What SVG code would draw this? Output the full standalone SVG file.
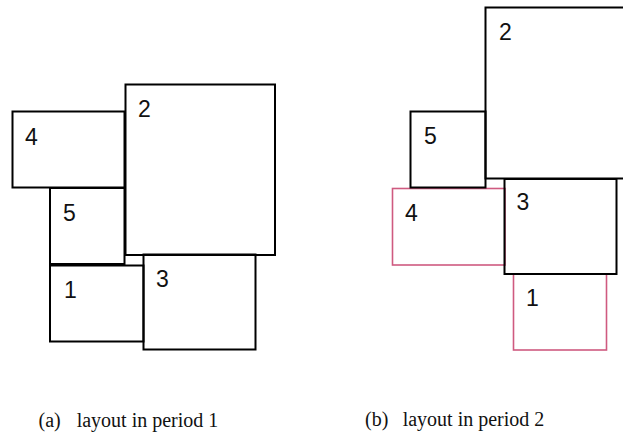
<svg xmlns="http://www.w3.org/2000/svg" width="623" height="434" viewBox="0 0 623 434">
<style>
.b{fill:none;stroke:#000;stroke-width:2}
.p{fill:none;stroke:#cf5a80;stroke-width:1.6}
.n{font-family:"Liberation Sans",Arial,sans-serif;font-size:23px;fill:#111}
.c{font-family:"Liberation Serif","Times New Roman",serif;font-size:20px;fill:#111}
</style>
<rect width="623" height="434" fill="#fff"/>
<g id="period1">
<g id="a4"><rect class="b" x="12.5" y="111.5" width="112" height="76"/><text class="n" x="25" y="145">4</text></g>
<g id="a2"><rect class="b" x="125.5" y="84.5" width="149.5" height="170.5"/><text class="n" x="138" y="116.5">2</text></g>
<g id="a5"><rect class="b" x="50" y="188" width="74.5" height="76"/><text class="n" x="63" y="220.5">5</text></g>
<g id="a1"><rect class="b" x="50" y="265.5" width="93.5" height="76"/><text class="n" x="64" y="297.5">1</text></g>
<g id="a3"><rect class="b" x="143.5" y="254.5" width="112" height="95"/><text class="n" x="156" y="286.5">3</text></g>
</g>
<g id="period2">
<g id="b4"><rect class="p" x="392.5" y="188.5" width="112.5" height="76.5"/><text class="n" x="405" y="220.5">4</text></g>
<g id="b1"><rect class="p" x="513.5" y="274" width="93" height="76"/><text class="n" x="526" y="306">1</text></g>
<g id="b2"><rect class="b" x="485.5" y="7.5" width="150" height="171"/><text class="n" x="499" y="40">2</text></g>
<g id="b5"><rect class="b" x="410.5" y="111.5" width="75" height="76"/><text class="n" x="424" y="144">5</text></g>
<g id="b3"><rect class="b" x="504.5" y="179" width="112" height="95"/><text class="n" x="516.5" y="210">3</text></g>
</g>
<g id="connectors"></g>
<g id="captions">
<text class="c" x="38.5" y="426.5">(a)</text>
<text class="c" x="76.7" y="426.5">layout in period 1</text>
<text class="c" x="365" y="425.5">(b)</text>
<text class="c" x="402.7" y="425.5">layout in period 2</text>
</g>
</svg>
